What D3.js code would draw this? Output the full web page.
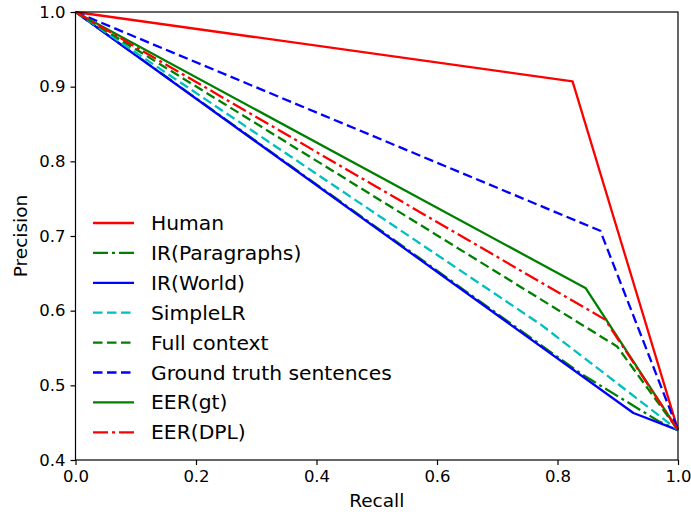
<!DOCTYPE html>
<html><head><meta charset="utf-8">
<script src="https://cdn.jsdelivr.net/npm/d3@7"></script>
<style>body{margin:0;background:#fff}svg{display:block}text{font-family:"DejaVu Sans",sans-serif}</style>
</head><body><svg id="c" width="691" height="514"></svg>
<script>
const seriesNames = ["Human","IR(Paragraphs)","IR(World)","SimpleLR","Full context","Ground truth sentences","EER(gt)","EER(DPL)"];
const human      = [[0,1.0],[0.825,0.907],[1,0.44]];
const irPara     = [[0,1.0],[0.84,0.515],[0.97,0.451],[1,0.44]];
const irWorld    = [[0,1.0],[0.926,0.463],[1,0.44]];
const simpleLR   = [[0,1.0],[0.773,0.581],[1,0.44]];
const fullCtx    = [[0,1.0],[0.899,0.552],[1,0.44]];
const groundTr   = [[0,1.0],[0.871,0.707],[1,0.44]];
const eerGt      = [[0,1.0],[0.847,0.630],[1,0.44]];
const eerDpl     = [[0,1.0],[0.879,0.588],[1,0.44]];
const xTicks = [0,0.2,0.4,0.6,0.8,1.0];
const yTicks = [0.4,0.5,0.6,0.7,0.8,0.9,1.0];

const styles = [
  {c:"#ff0000", d:null},
  {c:"#008000", d:"15,4,3,4"},
  {c:"#0000ff", d:null},
  {c:"#00bfbf", d:"9.5,4.5"},
  {c:"#008000", d:"9.5,4.5"},
  {c:"#0000ff", d:"9.5,4.5"},
  {c:"#008000", d:null},
  {c:"#ff0000", d:"15,4,3,4"}
];
const data = [human, irPara, irWorld, simpleLR, fullCtx, groundTr, eerGt, eerDpl];

const svg = d3.select("#c");
const L=75.5, R=678, T=12, B=460;
const x = d3.scaleLinear().domain([0,1]).range([L,R]);
const y = d3.scaleLinear().domain([0.4,1]).range([B,T]);

svg.append("clipPath").attr("id","pc").append("rect")
  .attr("x",L).attr("y",T-2).attr("width",R-L+2).attr("height",B-T+2);

const line = d3.line().x(d=>x(d[0])).y(d=>y(d[1]));
const g = svg.append("g").attr("clip-path","url(#pc)");
data.forEach((s,i)=>{
  g.append("path").attr("d",line(s)).attr("fill","none")
   .attr("stroke",styles[i].c).attr("stroke-width",2.3)
   .attr("stroke-dasharray",styles[i].d).attr("stroke-linejoin","round");
});

svg.append("rect").attr("x",L).attr("y",T).attr("width",R-L).attr("height",B-T)
  .attr("fill","none").attr("stroke","#000").attr("stroke-width",1.2);

const xa = svg.append("g").attr("transform",`translate(0,${B})`)
  .call(d3.axisBottom(x).tickValues(xTicks).tickFormat(d3.format(".1f")).tickSize(5).tickPadding(5));
const ya = svg.append("g").attr("transform",`translate(${L},0)`)
  .call(d3.axisLeft(y).tickValues(yTicks).tickFormat(d3.format(".1f")).tickSize(5).tickPadding(5));
[xa,ya].forEach(a=>{
  a.select(".domain").remove();
  a.selectAll("line").attr("stroke","#000").attr("stroke-width",1.2);
  a.selectAll("text").attr("font-size",16.5).attr("fill","#000").attr("font-family","DejaVu Sans");
});

svg.append("text").attr("x",(L+R)/2).attr("y",507).attr("text-anchor","middle")
  .attr("font-size",18.5).text("Recall");
svg.append("text").attr("transform",`translate(27,${(T+B)/2}) rotate(-90)`)
  .attr("text-anchor","middle").attr("font-size",18.5).text("Precision");

const lg = svg.append("g");
seriesNames.forEach((n,i)=>{
  const yy = 223 + i*29.9;
  lg.append("line").attr("x1",93).attr("x2",134).attr("y1",yy).attr("y2",yy)
    .attr("stroke",styles[i].c).attr("stroke-width",2.3).attr("stroke-dasharray",styles[i].d);
  lg.append("text").attr("x",151).attr("y",yy+7).attr("font-size",20.3).text(n);
});
</script></body></html>
